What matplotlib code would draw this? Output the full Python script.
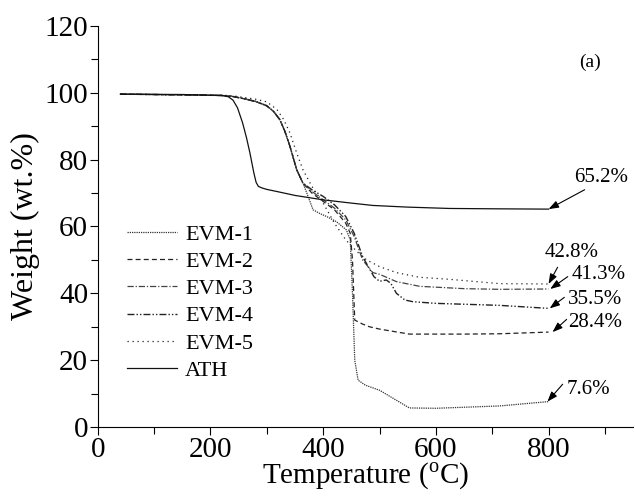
import matplotlib
matplotlib.use("Agg")
import matplotlib.pyplot as plt
from matplotlib.ticker import MultipleLocator

plt.rcParams["font.family"] = ["Liberation Serif", "DejaVu Serif"]
plt.rcParams["mathtext.fontset"] = "custom"
plt.rcParams["mathtext.rm"] = "Liberation Serif"

# TGA curves (temperature in C, weight in wt.%)
t_evm1 = [40, 150, 220, 240, 260, 280, 300, 312, 323, 332, 341, 353, 364, 371, 382, 395, 406,
          423, 441, 448, 452, 456, 462, 475, 500, 530, 553, 600, 713, 800]
w_evm1 = [99.6, 99.4, 99.2, 98.9, 98.3, 97.5, 96.2, 94.5, 92, 88.5, 84, 77, 73, 70, 65, 63.8,
          63, 61.5, 59, 56, 40, 20, 14, 12.5, 11, 8, 5.7, 5.6, 6.3, 7.6]
t_evm2 = [40, 150, 220, 240, 260, 280, 300, 312, 323, 332, 341, 353, 364, 380, 400, 420, 440,
          448, 452, 456, 470, 482, 500, 553, 650, 713, 800]
w_evm2 = [99.6, 99.4, 99.2, 98.9, 98.2, 97.4, 96.1, 94.4, 92, 88.5, 84, 77, 73, 70, 67.5, 65,
          61, 58, 50, 32, 30.8, 30, 29.3, 27.8, 27.8, 27.9, 28.4]
t_evm3 = [40, 150, 220, 240, 260, 280, 300, 312, 323, 332, 341, 353, 364, 380, 400, 420, 440,
          455, 470, 488, 500, 530, 571, 650, 713, 800]
w_evm3 = [99.6, 99.4, 99.2, 98.9, 98.2, 97.4, 96.1, 94.4, 92, 88.5, 84, 77, 73, 70.5, 68, 65.5,
          62, 57, 50, 46.2, 45.7, 43.5, 42.1, 41.4, 41.2, 41.3]
t_evm4 = [40, 150, 220, 240, 260, 280, 300, 312, 323, 332, 341, 353, 364, 380, 400, 420, 440,
          455, 470, 490, 500, 512, 520, 530, 545, 559, 600, 713, 800]
w_evm4 = [99.6, 99.4, 99.2, 98.9, 98.2, 97.4, 96.1, 94.4, 92, 88.5, 84, 77, 73, 71, 69, 66.5,
          63, 58, 51, 45, 43.6, 44, 43, 40, 38, 37.5, 37, 36.4, 35.5]
t_evm5 = [40, 150, 220, 240, 260, 280, 300, 318, 330, 341, 353, 364, 380, 400, 420, 440, 460,
          477, 500, 530, 571, 624, 713, 800]
w_evm5 = [99.6, 99.4, 99.3, 99.1, 98.6, 98.1, 97.3, 95, 92, 88, 82, 77, 72, 67, 61, 56, 52.5,
          50, 48, 46.2, 44.8, 44.2, 42.9, 42.8]
t_ath = [40, 150, 222, 232, 240, 248, 257, 264, 270, 277, 281, 285, 292, 300, 317, 350, 399,
         450, 488, 550, 624, 700, 800]
w_ath = [99.6, 99.5, 99.2, 98.8, 97.8, 95.5, 91, 86.5, 82, 76, 73.2, 72, 71.5, 71.1, 70.5,
         69.3, 68, 67, 66.3, 65.8, 65.4, 65.3, 65.2]

# residue values at 800 C
residues = ["65.2%", "42.8%", "41.3%", "35.5%", "28.4%", "7.6%"]
res_w = [65.2, 42.8, 41.3, 35.5, 28.4, 7.6]

fig = plt.figure(figsize=(6.35, 5.0), dpi=100)
ax = fig.add_axes([0.154, 0.146, 0.843, 0.802])

ax.plot(t_evm1, w_evm1, color="#333333", lw=0.9, ls=(0, (1, 0.8)), label="EVM-1")
ax.plot(t_evm2, w_evm2, color="#222222", lw=0.9, ls=(0, (4, 2.5)), label="EVM-2")
ax.plot(t_evm3, w_evm3, color="#444444", lw=0.9, ls=(0, (5, 1.5, 1, 1.5)), label="EVM-3")
ax.plot(t_evm4, w_evm4, color="#222222", lw=1.0, ls=(0, (5, 1.5, 1, 1.5, 1, 1.5)), label="EVM-4")
ax.plot(t_evm5, w_evm5, color="#222222", lw=0.9, ls=(0, (1, 3)), label="EVM-5")
ax.plot(t_ath, w_ath, color="#111111", lw=0.9, ls="-", label="ATH")

# arrows from label to the end of each curve
text_xy = [(846, 74.6), (793, 52.2), (841, 45.7), (834, 38.2), (834, 31.3), (832, 11.3)]
tails = [(864, 71), (816, 47.8), (834, 45.0), (828, 38.8), (832, 32.2), (825, 12.8)]
heads_x = [800, 800, 803, 802, 807, 798]
for lab, w, (tx, ty), tl, hx in zip(residues, res_w, text_xy, tails, heads_x):
    ax.annotate("", xy=(hx, w), xytext=tl,
                arrowprops=dict(arrowstyle="-|>,head_length=0.6,head_width=0.22",
                                color="black", lw=0.8, shrinkA=0, shrinkB=0))
    ax.text(tx, ty, lab, fontsize=15, ha="left", va="center")

ax.text(874, 109, "(a)", fontsize=14, ha="center", va="center")

ax.set_xlim(0, 950)
ax.set_ylim(0, 120)
ax.xaxis.set_major_locator(MultipleLocator(200))
ax.xaxis.set_minor_locator(MultipleLocator(100))
ax.yaxis.set_major_locator(MultipleLocator(20))
ax.yaxis.set_minor_locator(MultipleLocator(10))
ax.spines["top"].set_visible(False)
ax.spines["right"].set_visible(False)
ax.tick_params(which="major", direction="out", length=6, width=0.8, labelsize=21, pad=1)
ax.tick_params(which="minor", direction="out", length=5, width=0.8)
ax.set_xlabel("Temperature ($^{\\rm o}$C)", fontsize=21, labelpad=-1)
ax.set_ylabel("Weight (wt.%)", fontsize=23, labelpad=3)

ax.legend(loc="upper left", bbox_to_anchor=(0.055, 0.506), frameon=False, fontsize=16,
          handlelength=2.25, handletextpad=0.36, labelspacing=0.3, borderpad=0, borderaxespad=0)

fig.savefig("out.png", dpi=100)
